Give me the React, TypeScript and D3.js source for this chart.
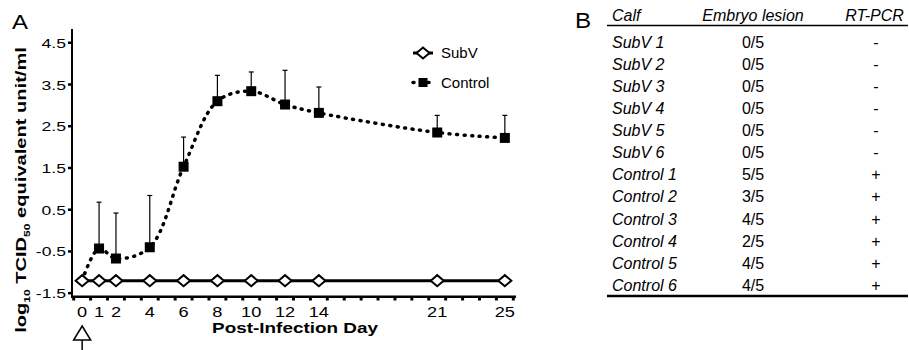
import React, { useEffect } from 'react';
import * as d3 from 'd3';

const days = [0, 1, 2, 4, 6, 8, 10, 12, 14, 21, 25];
const subvMean = [-1.2, -1.2, -1.2, -1.2, -1.2, -1.2, -1.2, -1.2, -1.2, -1.2, -1.2];
const controlMean = [-1.2, -0.43, -0.67, -0.4, 1.53, 3.1, 3.34, 3.02, 2.82, 2.35, 2.22];
const controlErrTop = [null, 0.68, 0.42, 0.84, 2.24, 3.72, 3.8, 3.84, 3.44, 2.76, 2.76];
const xTickLabels = [0, 1, 2, 4, 6, 8, 10, 12, 14, 21, 25];
const yTicks = [-1.5, -0.5, 0.5, 1.5, 2.5, 3.5, 4.5];

const tableHeader = ['Calf', 'Embryo lesion', 'RT-PCR'];
const calves = ['SubV 1', 'SubV 2', 'SubV 3', 'SubV 4', 'SubV 5', 'SubV 6',
  'Control 1', 'Control 2', 'Control 3', 'Control 4', 'Control 5', 'Control 6'];
const lesions = ['0/5', '0/5', '0/5', '0/5', '0/5', '0/5', '5/5', '3/5', '4/5', '2/5', '4/5', '4/5'];
const rtpcr = ['-', '-', '-', '-', '-', '-', '+', '+', '+', '+', '+', '+'];

const FONT = 'Liberation Sans, Arial, Helvetica, sans-serif';

function SText({ x, y, sx = 1, anchor = 'start', size = 14, weight = 'normal', style = 'normal', children }: any) {
  return (
    <text transform={`translate(${x},${y}) scale(${sx},1)`} textAnchor={anchor}
      fontSize={size} fontWeight={weight} fontStyle={style} fontFamily={FONT} fill="#000">
      {children}
    </text>
  );
}

function diamondPath(cx: number, cy: number) {
  return `M${cx - 6.5},${cy} L${cx},${cy - 5.5} L${cx + 6.5},${cy} L${cx},${cy + 5.5} Z`;
}

export default function App() {
  useEffect(() => {
    document.body.style.margin = '0';
  }, []);

  const x = d3.scaleLinear().domain([-0.6, 25.6]).range([72, 515]);
  const y = d3.scaleLinear().domain([-1.58, 4.83]).range([296.5, 29]);

  const lineCurve = d3.line<number>()
    .x((d, i) => x(days[i]))
    .y(d => y(d))
    .curve(d3.curveCatmullRom.alpha(0.5));
  const lineStraight = d3.line<number>()
    .x((d, i) => x(days[i]))
    .y(d => y(d));

  const minorTicks = d3.range(-0.5, 26, 1);

  // table geometry
  const tLeft = 607, tRight = 908;
  const colCalf = 612, colLesion = 753, colPcr = 876;
  const rowY = d3.scaleLinear().domain([0, 11]).range([48, 290.7]);

  return (
    <svg width={909} height={350} style={{ display: 'block', background: '#fff' }}>
      {/* panel label A */}
      <SText x={12} y={29} sx={1.2} size={20}>A</SText>

      {/* y axis */}
      <line x1={72} x2={72} y1={29} y2={297} stroke="#000" strokeWidth={2} />
      {yTicks.map(t => (
        <g key={t}>
          <line x1={68} x2={72} y1={y(t)} y2={y(t)} stroke="#000" strokeWidth={2.5} />
          <SText x={66} y={y(t) + 5} sx={1.3} anchor="end" size={13.5}>{t.toFixed(1)}</SText>
        </g>
      ))}
      <text transform="translate(26,190) rotate(-90) scale(1.34,1)" textAnchor="middle"
        fontSize={15} fontWeight="bold" fontFamily={FONT}>
        log<tspan fontSize={9} dy={4}>10</tspan><tspan dy={-4}> TCID</tspan>
        <tspan fontSize={9} dy={4}>50</tspan><tspan dy={-4}> equivalent unit/ml</tspan>
      </text>

      {/* x axis */}
      <line x1={71} x2={516} y1={296.7} y2={296.7} stroke="#000" strokeWidth={2.5} />
      {minorTicks.map(t => (
        <line key={t} x1={x(t)} x2={x(t)} y1={296} y2={300.5} stroke="#000" strokeWidth={3} />
      ))}
      {xTickLabels.map(t => (
        <SText key={t} x={x(t)} y={317} sx={1.3} anchor="middle" size={14}>{t}</SText>
      ))}
      <SText x={295} y={333} sx={1.35} anchor="middle" size={14} weight="bold">Post-Infection Day</SText>

      {/* inoculation arrow */}
      <path d={`M${x(0)},326 L${x(0) + 8.5},340 L${x(0) - 8.5},340 Z`} fill="#fff" stroke="#000" strokeWidth={1.5} />
      <line x1={x(0)} x2={x(0)} y1={340} y2={350} stroke="#000" strokeWidth={1.5} />

      {/* control error bars */}
      {controlErrTop.map((e, i) => e === null ? null : (
        <g key={i}>
          <line x1={x(days[i])} x2={x(days[i])} y1={y(controlMean[i])} y2={y(e)} stroke="#000" strokeWidth={1.2} />
          <line x1={x(days[i]) - 2.5} x2={x(days[i]) + 2.5} y1={y(e)} y2={y(e)} stroke="#000" strokeWidth={1.2} />
        </g>
      ))}

      {/* control dotted curve */}
      <path d={lineCurve(controlMean) || ''} fill="none" stroke="#000" strokeWidth={3.5}
        strokeDasharray="1 6.5" strokeLinecap="round" />
      {controlMean.map((v, i) => i === 0 ? null : (
        <rect key={i} x={x(days[i]) - 5} y={y(v) - 5} width={10} height={10} fill="#000" />
      ))}

      {/* SubV line */}
      <path d={lineStraight(subvMean) || ''} fill="none" stroke="#000" strokeWidth={3} />
      {subvMean.map((v, i) => (
        <path key={i} d={diamondPath(x(days[i]), y(v))} fill="#fff" stroke="#000" strokeWidth={2} />
      ))}

      {/* legend */}
      <line x1={413} x2={433} y1={53} y2={53} stroke="#000" strokeWidth={3} />
      <path d={diamondPath(423, 53)} fill="#fff" stroke="#000" strokeWidth={2} />
      <SText x={441} y={57.5} size={15}>SubV</SText>
      <line x1={413} x2={434} y1={82.5} y2={82.5} stroke="#000" strokeWidth={3.5}
        strokeDasharray="1 6.5" strokeLinecap="round" />
      <rect x={418.5} y={78} width={9} height={9} fill="#000" />
      <SText x={441} y={87.5} size={15}>Control</SText>

      {/* panel B table */}
      <SText x={575} y={28} sx={1.1} size={22}>B</SText>
      <SText x={colCalf} y={21} size={16} style="italic">{tableHeader[0]}</SText>
      <SText x={colLesion} y={21} size={16} style="italic" anchor="middle">{tableHeader[1]}</SText>
      <SText x={874.5} y={21} size={16} style="italic" anchor="middle">{tableHeader[2]}</SText>
      <line x1={tLeft} x2={tRight} y1={25.5} y2={25.5} stroke="#000" strokeWidth={1.5} />
      {calves.map((c, i) => (
        <g key={c}>
          <SText x={colCalf} y={rowY(i)} size={16} style="italic">{c}</SText>
          <SText x={colLesion} y={rowY(i)} size={16} anchor="middle">{lesions[i]}</SText>
          <SText x={colPcr} y={rowY(i)} size={16} anchor="middle">{rtpcr[i]}</SText>
        </g>
      ))}
      <line x1={tLeft} x2={tRight} y1={296} y2={296} stroke="#000" strokeWidth={2.5} />
    </svg>
  );
}
